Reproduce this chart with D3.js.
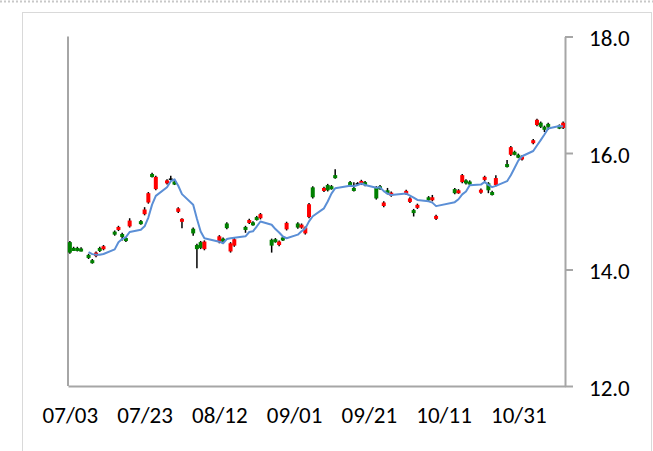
<!DOCTYPE html>
<html>
<head>
<meta charset="utf-8">
<script src="https://cdn.jsdelivr.net/npm/d3@7"></script>
<style>
  body { margin: 0; background: #fff; }
  svg { display: block; }
</style>
</head>
<body>
<script>
// trading days (gaps = no candle)
const dates = [
  '07/03','07/04','07/05','07/06','07/08','07/09','07/10','07/11','07/12',
  '07/15','07/16','07/17','07/18','07/19','07/22','07/23','07/24','07/25','07/26',
  '07/29','07/30','07/31','08/01','08/02','08/05','08/06','08/07','08/08',
  '08/12','08/13','08/14','08/15','08/16','08/19','08/20','08/21','08/22','08/23',
  '08/26','08/27','08/28','08/29','08/30','09/02','09/03','09/04','09/05','09/06',
  '09/09','09/10','09/11','09/12','09/16','09/17','09/18','09/19','09/20',
  '09/23','09/24','09/25','09/26','09/27','10/01','10/02','10/03','10/04',
  '10/07','10/08','10/09','10/14','10/15','10/16','10/17','10/18',
  '10/21','10/22','10/23','10/24','10/25','10/28','10/29','10/30','10/31','11/01',
  '11/04','11/05','11/06','11/07','11/08','11/11','11/12'
];
const opens = [
  14.47,14.37,14.37,14.36,14.25,14.16,14.23,14.37,14.35,
  14.65,14.68,14.61,14.54,14.74,14.83,14.95,15.15,15.64,15.38,
  15.48,15.55,15.51,14.99,14.82,14.70,14.42,14.47,14.35,
  14.47,14.53,14.79,14.31,14.41,14.73,14.80,14.81,14.90,14.88,
  14.51,14.52,14.42,14.55,14.69,14.79,14.72,14.62,14.90,15.41,
  15.35,15.45,15.43,15.62,15.50,15.40,15.47,15.47,15.50,
  15.41,15.43,15.09,15.36,15.27,15.30,15.16,15.02,15.06,
  15.24,15.19,14.87,15.38,15.32,15.50,15.53,15.51,
  15.32,15.54,15.48,15.33,15.45,15.81,15.97,16.02,15.97,15.89,
  16.17,16.48,16.52,16.45,16.50,16.47,16.43
];
const highs = [
  14.49,14.39,14.39,14.38,14.27,14.18,14.31,14.39,14.42,
  14.67,14.75,14.63,14.56,14.88,14.85,15.07,15.33,15.66,15.61,
  15.55,15.61,15.53,15.07,14.88,14.72,14.44,14.49,14.50,
  14.59,14.55,14.81,14.47,14.54,14.75,14.87,14.83,14.92,14.97,
  14.53,14.54,14.50,14.57,14.82,14.81,14.79,14.74,15.14,15.43,
  15.42,15.47,15.45,15.72,15.52,15.50,15.50,15.54,15.52,
  15.43,15.45,15.17,15.40,15.34,15.37,15.24,15.04,15.13,
  15.26,15.28,14.94,15.40,15.38,15.64,15.55,15.53,
  15.39,15.61,15.50,15.35,15.62,15.88,16.12,16.04,15.99,15.96,
  16.24,16.59,16.54,16.47,16.52,16.49,16.54
];
const lows = [
  14.27,14.32,14.31,14.31,14.18,14.10,14.21,14.30,14.33,
  14.58,14.66,14.50,14.47,14.72,14.77,14.93,15.13,15.58,15.36,
  15.46,15.53,15.45,14.97,14.71,14.58,14.02,14.35,14.33,
  14.45,14.46,14.69,14.29,14.39,14.63,14.78,14.75,14.84,14.86,
  14.29,14.46,14.40,14.49,14.67,14.70,14.70,14.60,14.88,15.22,
  15.33,15.34,15.37,15.56,15.43,15.34,15.45,15.45,15.43,
  15.20,15.37,15.07,15.29,15.25,15.28,15.14,14.91,15.04,
  15.18,15.17,14.85,15.29,15.30,15.48,15.46,15.44,
  15.30,15.52,15.31,15.27,15.43,15.75,15.95,15.96,15.91,15.87,
  16.15,16.46,16.43,16.36,16.40,16.41,16.41
];
const closes = [
  14.29,14.34,14.33,14.33,14.20,14.12,14.29,14.32,14.40,
  14.60,14.73,14.56,14.49,14.84,14.79,15.03,15.31,15.60,15.59,
  15.53,15.55,15.47,15.05,14.87,14.62,14.35,14.37,14.48,
  14.57,14.48,14.71,14.45,14.52,14.69,14.85,14.77,14.86,14.95,
  14.41,14.48,14.48,14.51,14.80,14.72,14.77,14.72,15.12,15.24,
  15.40,15.36,15.39,15.58,15.45,15.36,15.47,15.52,15.45,
  15.22,15.39,15.15,15.31,15.32,15.35,15.22,14.97,15.11,
  15.20,15.24,14.92,15.31,15.36,15.62,15.48,15.46,
  15.37,15.59,15.36,15.29,15.57,15.77,16.10,15.98,15.93,15.94,
  16.22,16.57,16.45,16.41,16.46,16.43,16.52
];
const xTicks = ['07/03','07/23','08/12','09/01','09/21','10/11','10/31'];
const yTicks = [12, 14, 16, 18];
const maPeriod = 5;

const W = 653, H = 451;
const parseDay = d3.timeParse('%Y/%m/%d');
const toDate = s => parseDay('2013/' + s);

const candles = dates.map((d, i) => ({
  date: toDate(d), o: opens[i], h: highs[i], l: lows[i], c: closes[i]
}));
// 5 day moving average of the closes
const ma = candles.slice(maPeriod - 1).map((d, k) => ({
  date: d.date,
  v: d3.mean(closes.slice(k, k + maPeriod))
}));

const svg = d3.select('body').append('svg')
  .attr('width', W)
  .attr('height', H);

// dashed selection line at the very top and chart area frame
svg.append('line')
  .attr('x1', 0).attr('x2', W).attr('y1', 1.5).attr('y2', 1.5)
  .attr('stroke', '#c8c8c8').attr('stroke-width', 2).attr('stroke-dasharray', '2,2');
svg.append('rect')
  .attr('x', 22.5).attr('y', 12.5).attr('width', 629).attr('height', 460)
  .attr('fill', 'none').attr('stroke', '#d9d9d9');

const first = toDate(dates[0]), last = toDate(dates[dates.length - 1]);
const x = d3.scaleTime()
  .domain([d3.timeHour.offset(first, -12), d3.timeHour.offset(last, 12)])
  .range([68, 565]);
const y = d3.scaleLinear().domain([12, 18]).range([386, 36.5]);

const font = "Carlito, Calibri, 'Liberation Sans', Arial, sans-serif";
const axisCol = '#a6a6a6';

// left axis line (no labels)
svg.append('line')
  .attr('x1', 68).attr('x2', 68).attr('y1', y(18)).attr('y2', y(12))
  .attr('stroke', axisCol).attr('stroke-width', 2);

// bottom axis
const xAxis = d3.axisBottom(x)
  .tickValues(xTicks.map(toDate))
  .tickFormat(d3.timeFormat('%m/%d'))
  .tickSize(0)
  .tickPadding(21);
const gx = svg.append('g').attr('transform', `translate(0,${y(12)})`).call(xAxis);
gx.select('.domain').attr('stroke', axisCol).attr('stroke-width', 2);
gx.selectAll('text').attr('font-family', font).attr('font-size', 23).attr('fill', '#000');

// right axis
const yAxis = d3.axisRight(y)
  .tickValues(yTicks)
  .tickFormat(d3.format('.1f'))
  .tickSizeInner(8)
  .tickSizeOuter(0)
  .tickPadding(16);
const gy = svg.append('g').attr('transform', 'translate(565,0)').call(yAxis);
gy.select('.domain').attr('stroke', axisCol).attr('stroke-width', 2);
gy.selectAll('.tick line').attr('stroke', axisCol).attr('stroke-width', 2);
gy.selectAll('text').attr('font-family', font).attr('font-size', 23).attr('fill', '#000')
  .attr('dy', '0.4em');

// candles
const bw = 4;
const g = svg.append('g');
g.selectAll('line.wick')
  .data(candles)
  .enter()
  .append('line')
    .attr('class', 'wick')
    .attr('x1', d => x(d.date)).attr('x2', d => x(d.date))
    .attr('y1', d => y(d.h)).attr('y2', d => y(d.l))
    .attr('stroke', '#000').attr('stroke-width', 1.5);

g.selectAll('rect.body')
  .data(candles)
  .enter()
  .append('rect')
    .attr('class', 'body')
    .attr('x', d => x(d.date) - bw / 2)
    .attr('width', bw)
    .attr('y', d => y(Math.max(d.o, d.c)) - (d.o === d.c ? 0.75 : 0))
    .attr('height', d => d.o === d.c ? 1.5 : Math.max(Math.abs(y(d.o) - y(d.c)), 3))
    .attr('fill', d => d.c > d.o ? '#ff0000' : d.c < d.o ? '#008000' : '#000');

// moving average line
const maLine = d3.line()
  .x(d => x(d.date))
  .y(d => y(d.v));
svg.append('path')
  .attr('d', maLine(ma))
  .attr('fill', 'none')
  .attr('stroke', '#5b8fd6')
  .attr('stroke-width', 2)
  .attr('stroke-linejoin', 'round');
</script>
</body>
</html>
